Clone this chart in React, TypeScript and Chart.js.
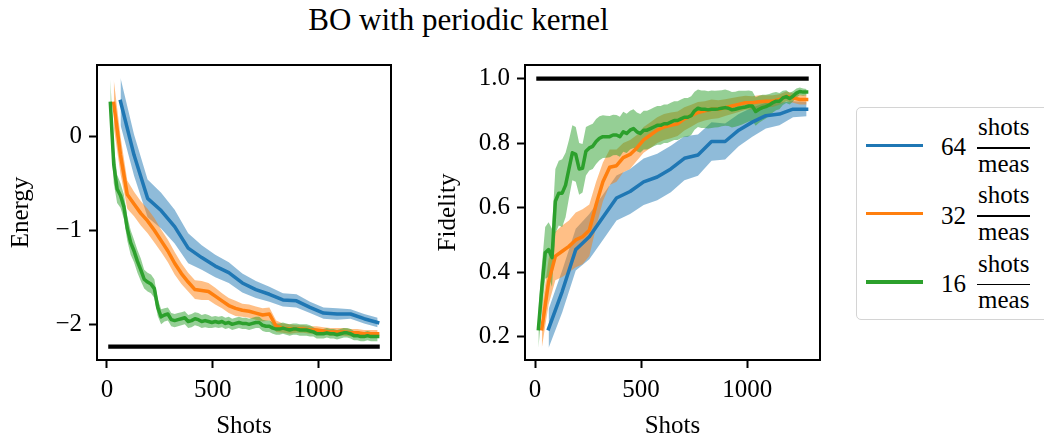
import React, { useEffect, useRef } from "react";
import { Chart, registerables } from "chart.js";

Chart.register(...registerables);

// ---------- data ----------
const SERIES_LABELS = ["64", "32", "16"];
const SHOTS_PER_MEAS = [64, 32, 16];
const SERIES_COLORS = ["#1f77b4", "#ff7f0e", "#2ca02c"];
const BAND_COLORS = ["rgba(31,119,180,0.5)", "rgba(255,127,14,0.5)", "rgba(44,160,44,0.5)"];

const X_TICKS = [0, 500, 1000];
const ENERGY_TICKS = [0, -1, -2];
const FIDELITY_TICKS = [0.2, 0.4, 0.6, 0.8, 1.0];

const SHOT_RANGE = [16, 1280];
const GROUND_ENERGY = -2.236;
const TARGET_FIDELITY = 1.0;

const ENERGY_64 = [0.37, -0.2, -0.66, -0.79, -0.96, -1.19, -1.29, -1.38, -1.45, -1.56, -1.63, -1.68, -1.74, -1.75, -1.82, -1.88, -1.89, -1.89, -1.94, -1.98];
const ENERGY_64_STD = [0.25, 0.22, 0.2, 0.19, 0.18, 0.16, 0.13, 0.12, 0.11, 0.1, 0.09, 0.08, 0.07, 0.07, 0.06, 0.06, 0.06, 0.05, 0.05, 0.05];

const ENERGY_32 = [0.35, -0.2, -0.62, -0.72, -0.82, -0.9, -1.0, -1.11, -1.22, -1.35, -1.46, -1.55, -1.63, -1.64, -1.65, -1.7, -1.75, -1.8, -1.83, -1.85, -1.86, -1.88, -1.9, -1.89, -2.02, -2.04, -2.05, -2.05, -2.05, -2.06, -2.06, -2.07, -2.08, -2.08, -2.08, -2.09, -2.09, -2.1, -2.1, -2.1];
const ENERGY_32_STD = [0.25, 0.2, 0.15, 0.13, 0.13, 0.13, 0.13, 0.12, 0.12, 0.12, 0.11, 0.1, 0.1, 0.1, 0.09, 0.09, 0.08, 0.08, 0.08, 0.07, 0.07, 0.07, 0.07, 0.07, 0.06, 0.05, 0.05, 0.04, 0.04, 0.04, 0.04, 0.04, 0.04, 0.04, 0.04, 0.04, 0.04, 0.04, 0.04, 0.04];

const ENERGY_16 = [
  0.35, -0.3, -0.56, -0.63, -0.75, -0.98, -1.13, -1.22, -1.33, -1.42, -1.52, -1.55, -1.57, -1.62, -1.82, -1.92, -1.9, -1.89, -1.95, -1.96,
  -1.95, -1.94, -1.93, -1.97, -1.96, -1.94, -1.95, -1.97, -1.96, -1.97, -1.98, -1.97, -1.98, -1.97, -1.99, -1.98, -2.0, -1.99, -1.98, -1.99,
  -1.99, -2.0, -1.99, -1.98, -1.98, -2.01, -2.02, -2.02, -2.04, -2.05, -2.05, -2.04, -2.05, -2.06, -2.05, -2.05, -2.06, -2.06, -2.06, -2.07,
  -2.08, -2.1, -2.1, -2.1, -2.09, -2.1, -2.1, -2.11, -2.1, -2.09, -2.09, -2.1, -2.12, -2.12, -2.13, -2.13, -2.12, -2.13, -2.13, -2.13,
];
const ENERGY_16_STD = [
  0.25, 0.2, 0.15, 0.13, 0.13, 0.13, 0.13, 0.12, 0.12, 0.12, 0.1, 0.1, 0.1, 0.1, 0.09, 0.08, 0.07, 0.07, 0.07, 0.07,
  0.07, 0.07, 0.07, 0.07, 0.07, 0.07, 0.07, 0.07, 0.07, 0.07, 0.06, 0.06, 0.06, 0.06, 0.06, 0.06, 0.06, 0.06, 0.06, 0.06,
  0.06, 0.06, 0.06, 0.06, 0.06, 0.06, 0.06, 0.06, 0.06, 0.06, 0.06, 0.06, 0.06, 0.06, 0.06, 0.06, 0.06, 0.06, 0.06, 0.06,
  0.05, 0.05, 0.05, 0.05, 0.05, 0.05, 0.05, 0.05, 0.05, 0.05, 0.05, 0.05, 0.05, 0.05, 0.05, 0.05, 0.05, 0.05, 0.05, 0.05,
];

const FIDELITY_64 = [0.225, 0.34, 0.47, 0.51, 0.57, 0.63, 0.65, 0.68, 0.695, 0.72, 0.753, 0.763, 0.805, 0.805, 0.84, 0.865, 0.885, 0.89, 0.905, 0.905];
const FIDELITY_64_STD = [0.06, 0.065, 0.065, 0.07, 0.07, 0.07, 0.07, 0.072, 0.072, 0.072, 0.068, 0.064, 0.06, 0.056, 0.05, 0.045, 0.04, 0.035, 0.025, 0.022];

const FIDELITY_32 = [0.225, 0.37, 0.45, 0.465, 0.48, 0.5, 0.51, 0.53, 0.61, 0.68, 0.725, 0.73, 0.755, 0.765, 0.785, 0.81, 0.825, 0.84, 0.85, 0.855, 0.86, 0.875, 0.885, 0.895, 0.9, 0.905, 0.905, 0.91, 0.915, 0.92, 0.925, 0.925, 0.928, 0.93, 0.93, 0.935, 0.945, 0.94, 0.935, 0.935];
const FIDELITY_32_STD = [0.06, 0.07, 0.075, 0.08, 0.08, 0.085, 0.085, 0.08, 0.07, 0.06, 0.055, 0.05, 0.045, 0.045, 0.04, 0.04, 0.04, 0.04, 0.04, 0.04, 0.038, 0.036, 0.034, 0.032, 0.03, 0.03, 0.028, 0.026, 0.025, 0.024, 0.022, 0.02, 0.02, 0.018, 0.018, 0.016, 0.015, 0.015, 0.015, 0.015];

const FIDELITY_16 = [
  0.225, 0.35, 0.46, 0.47, 0.445, 0.62, 0.645, 0.645, 0.67, 0.72, 0.77, 0.765, 0.72, 0.722, 0.775, 0.785, 0.79, 0.805, 0.815, 0.82,
  0.82, 0.82, 0.825, 0.825, 0.82, 0.835, 0.83, 0.84, 0.845, 0.835, 0.83, 0.84, 0.84, 0.845, 0.85, 0.855, 0.855, 0.86, 0.86, 0.865,
  0.87, 0.87, 0.875, 0.88, 0.88, 0.885, 0.9, 0.908, 0.905, 0.905, 0.903, 0.905, 0.905, 0.906, 0.908, 0.91, 0.908, 0.903, 0.905, 0.908,
  0.91, 0.912, 0.915, 0.915, 0.898, 0.905, 0.91, 0.913, 0.918, 0.925, 0.93, 0.93, 0.94, 0.944, 0.938, 0.945, 0.955, 0.96, 0.958, 0.958,
];
const FIDELITY_16_STD = [
  0.06, 0.07, 0.08, 0.085, 0.09, 0.1, 0.1, 0.105, 0.1, 0.09, 0.085, 0.085, 0.08, 0.075, 0.075, 0.07, 0.07, 0.07, 0.068, 0.066,
  0.065, 0.064, 0.063, 0.062, 0.062, 0.062, 0.061, 0.06, 0.06, 0.06, 0.06, 0.06, 0.06, 0.06, 0.06, 0.06, 0.06, 0.06, 0.06, 0.06,
  0.06, 0.06, 0.06, 0.06, 0.06, 0.06, 0.059, 0.058, 0.058, 0.058, 0.058, 0.058, 0.057, 0.057, 0.056, 0.056, 0.055, 0.055, 0.054, 0.054,
  0.052, 0.05, 0.048, 0.046, 0.044, 0.042, 0.04, 0.037, 0.034, 0.031, 0.028, 0.025, 0.022, 0.02, 0.018, 0.016, 0.014, 0.012, 0.011, 0.01,
];

// ---------- helpers ----------
const FONT_FAMILY = "'Liberation Serif', 'Times New Roman', serif";
const TICK_FONT = { family: FONT_FAMILY, size: 25 };
const CANVAS_W = 420;
const CANVAS_H = 442;

function shotsFor(perMeas: number, n: number) {
  return Array.from({ length: n }, (_, i) => perMeas * (i + 1));
}

function buildDatasets(values: number[][], stds: number[][], reference: number) {
  const ds: any[] = [];
  values.forEach((vals, s) => {
    const xs = shotsFor(SHOTS_PER_MEAS[s], vals.length);
    const lowerIndex = ds.length;
    ds.push({
      data: xs.map((x, i) => ({ x, y: vals[i] - stds[s][i] })),
      borderWidth: 0,
      pointRadius: 0,
      fill: false,
      order: 20 - s,
      backgroundColor: "transparent",
      borderColor: "transparent",
    });
    ds.push({
      data: xs.map((x, i) => ({ x, y: vals[i] + stds[s][i] })),
      borderWidth: 0,
      pointRadius: 0,
      fill: lowerIndex,
      order: 20 - s,
      backgroundColor: BAND_COLORS[s],
      borderColor: "transparent",
    });
  });
  values.forEach((vals, s) => {
    const xs = shotsFor(SHOTS_PER_MEAS[s], vals.length);
    ds.push({
      data: xs.map((x, i) => ({ x, y: vals[i] })),
      borderColor: SERIES_COLORS[s],
      borderWidth: 3.5,
      borderCapStyle: "square",
      borderJoinStyle: "round",
      pointRadius: 0,
      fill: false,
      order: 10 - s,
      tension: 0,
    });
  });
  ds.push({
    data: SHOT_RANGE.map((x) => ({ x, y: reference })),
    borderColor: "#000",
    borderWidth: 4.25,
    borderCapStyle: "square",
    pointRadius: 0,
    fill: false,
    order: 0,
  });
  return ds;
}

const framePlugin = {
  id: "frame",
  afterDraw(chart: any) {
    const { ctx, chartArea: a } = chart;
    ctx.save();
    ctx.strokeStyle = "#000";
    ctx.lineWidth = 2;
    ctx.strokeRect(a.left, a.top, a.right - a.left, a.bottom - a.top);
    ctx.restore();
  },
};

function makeConfig(opts: {
  datasets: any[];
  yMin: number;
  yMax: number;
  yTicks: number[];
  yFormat: (v: number) => string;
  yTitle: string;
  yTitlePad: number;
  yWidth: number;
  rightPad: number;
}) {
  return {
    type: "line",
    data: { datasets: opts.datasets },
    plugins: [framePlugin],
    options: {
      animation: false,
      responsive: false,
      maintainAspectRatio: false,
      layout: { padding: { top: 65, right: opts.rightPad, left: 0, bottom: 0 } },
      plugins: {
        legend: { display: false },
        tooltip: { enabled: false },
        title: { display: false },
      },
      scales: {
        x: {
          type: "linear",
          min: -47.2,
          max: 1343.2,
          afterBuildTicks: (scale: any) => {
            scale.ticks = X_TICKS.map((v) => ({ value: v }));
          },
          afterFit: (scale: any) => {
            scale.height = CANVAS_H - 360;
          },
          ticks: {
            font: TICK_FONT,
            color: "#000",
            padding: 7,
            maxRotation: 0,
            autoSkip: false,
            callback: (v: any) => String(v),
          },
          grid: {
            drawOnChartArea: false,
            drawTicks: true,
            tickLength: 8,
            tickWidth: 2,
            tickColor: "#000",
          },
          border: { display: false },
          title: {
            display: true,
            text: "Shots",
            font: TICK_FONT,
            color: "#000",
            padding: { top: 0, bottom: 1 },
          },
        },
        y: {
          type: "linear",
          min: opts.yMin,
          max: opts.yMax,
          afterBuildTicks: (scale: any) => {
            scale.ticks = opts.yTicks.map((v) => ({ value: v }));
          },
          afterFit: (scale: any) => {
            scale.width = opts.yWidth;
          },
          ticks: {
            font: TICK_FONT,
            color: "#000",
            padding: 7,
            autoSkip: false,
            callback: (v: any) => opts.yFormat(Number(v)),
          },
          grid: {
            drawOnChartArea: false,
            drawTicks: true,
            tickLength: 8,
            tickWidth: 2,
            tickColor: "#000",
          },
          border: { display: false },
          title: {
            display: true,
            text: opts.yTitle,
            font: TICK_FONT,
            color: "#000",
            padding: { top: opts.yTitlePad, bottom: 0 },
          },
        },
      },
    },
  };
}

function ChartCanvas({ config, left }: { config: any; left: number }) {
  const ref = useRef<HTMLCanvasElement | null>(null);
  useEffect(() => {
    if (!ref.current) return;
    const chart = new Chart(ref.current, config);
    return () => chart.destroy();
  }, [config]);
  return (
    <canvas
      ref={ref}
      width={CANVAS_W}
      height={CANVAS_H}
      style={{ position: "absolute", left, top: 0, width: CANVAS_W, height: CANVAS_H }}
    />
  );
}

const energyConfig = makeConfig({
  datasets: buildDatasets([ENERGY_64, ENERGY_32, ENERGY_16], [ENERGY_64_STD, ENERGY_32_STD, ENERGY_16_STD], GROUND_ENERGY),
  yMin: -2.379,
  yMax: 0.758,
  yTicks: ENERGY_TICKS,
  yFormat: (v) => (v < 0 ? "\u2212" + Math.abs(v) : String(v)),
  yTitle: "Energy",
  yTitlePad: 6,
  yWidth: 97,
  rightPad: 29,
});

const fidelityConfig = makeConfig({
  datasets: buildDatasets([FIDELITY_64, FIDELITY_32, FIDELITY_16], [FIDELITY_64_STD, FIDELITY_32_STD, FIDELITY_16_STD], TARGET_FIDELITY),
  yMin: 0.128,
  yMax: 1.042,
  yTicks: FIDELITY_TICKS,
  yFormat: (v) => v.toFixed(1),
  yTitle: "Fidelity",
  yTitlePad: 13,
  yWidth: 105,
  rightPad: 20,
});

function LegendEntry({ index }: { index: number }) {
  return (
    <div style={{ position: "absolute", left: 0, top: 8 + index * 68.3, height: 60, width: 200 }}>
      <div
        style={{
          position: "absolute",
          left: 9,
          top: 27.5,
          width: 57,
          height: 3.5,
          background: SERIES_COLORS[index],
        }}
      />
      <div
        style={{
          position: "absolute",
          left: 84,
          top: 0,
          display: "flex",
          alignItems: "center",
          fontFamily: FONT_FAMILY,
          fontSize: 25,
          color: "#000",
        }}
      >
        <span style={{ lineHeight: "22px", paddingTop: 4, marginRight: 11 }}>{SERIES_LABELS[index]}</span>
        <span style={{ display: "inline-flex", flexDirection: "column", alignItems: "center" }}>
          <span style={{ lineHeight: "22px", paddingBottom: 9, paddingLeft: 1, paddingRight: 1 }}>shots</span>
          <span style={{ height: 1.5, alignSelf: "stretch", background: "#000" }} />
          <span style={{ lineHeight: "22px", paddingTop: 4 }}>meas</span>
        </span>
      </div>
    </div>
  );
}

export default function App() {
  return (
    <div
      style={{
        position: "fixed",
        left: 0,
        top: 0,
        width: 1044,
        height: 434,
        background: "#fff",
        overflow: "hidden",
      }}
    >
      <div
        style={{
          position: "absolute",
          left: 0,
          width: 917,
          top: 4,
          textAlign: "center",
          fontFamily: FONT_FAMILY,
          fontSize: 31,
          lineHeight: "31px",
          color: "#000",
        }}
      >
        BO with periodic kernel
      </div>
      <ChartCanvas config={energyConfig} left={0} />
      <ChartCanvas config={fidelityConfig} left={420} />
      <div
        style={{
          position: "absolute",
          left: 856,
          top: 107,
          width: 230,
          height: 211,
          border: "1.5px solid #d4d4d4",
          borderRadius: 5,
          background: "#fff",
        }}
      >
        {SERIES_LABELS.map((_, i) => (
          <LegendEntry key={i} index={i} />
        ))}
      </div>
    </div>
  );
}
